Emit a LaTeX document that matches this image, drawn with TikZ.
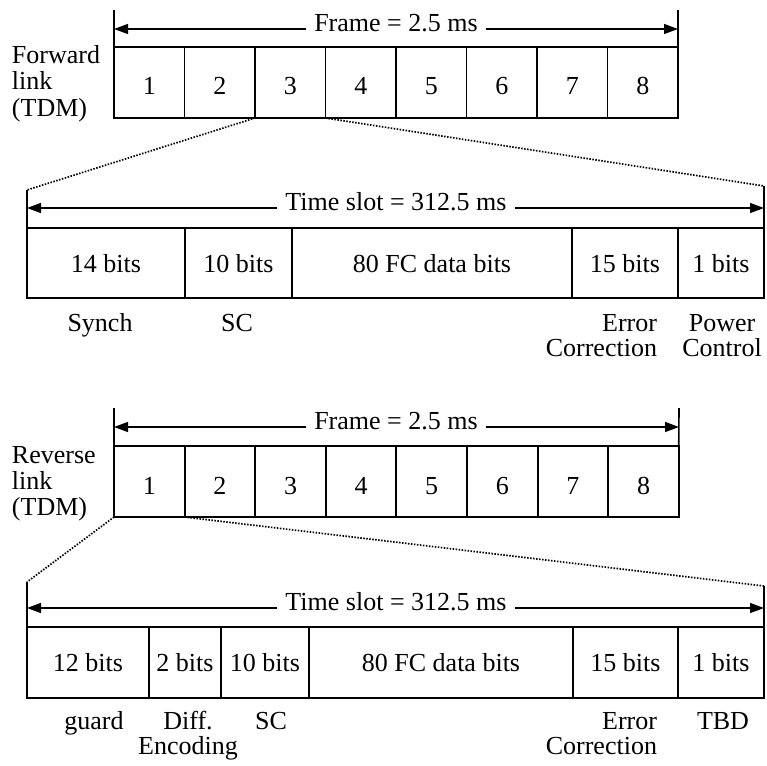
\documentclass[tikz,border=0pt]{standalone}
\usepackage{fontspec}
\setmainfont{Liberation Serif}
\usetikzlibrary{arrows.meta}
\begin{document}
\begin{tikzpicture}[x=1pt,y=-1pt,
  txt/.style={inner sep=0pt, outer sep=0pt, font=\fontsize{26}{22}\selectfont},
  undertxt/.style={txt, text height=18pt, text depth=0pt},
  framecell/.style={txt, draw, line width=1.9pt, minimum width=70.5pt, minimum height=71pt, text height=25pt, text depth=0pt},
  slotcell/.style={txt, draw, line width=1.9pt, minimum height=70.5pt, text height=18pt, text depth=0pt},
  dimlabel/.style={txt, anchor=mid, inner xsep=8pt},
  dimline/.style={line width=1.4pt, -{Triangle[length=14pt,width=10pt]}},
  tickline/.style={line width=1.6pt},
  zoomline/.style={line width=1.7pt, dash pattern=on 1.5pt off 1.5pt}]
\useasboundingbox (0,0) rectangle (767,765);

% ---------- Forward link frame ----------
\foreach \i in {1,...,8}
  \node[framecell] (f\i) at ({114+70.5*(\i-0.5)}, 82.5) {\i};
\node[undertxt, anchor=base west] (fl1) at (12,64) {Forward};
\node[undertxt, anchor=base west] (fl2) at (12,90) {link};
\node[undertxt, anchor=base west] (fl3) at (12,116) {(TDM)};
\coordinate (ftl) at (114,10);
\coordinate (ftr) at (678,10);
\draw[tickline] (ftl) -- (f1.north west);
\draw[tickline] (ftr) -- (f8.north east);
\coordinate (fa1) at (114,29);
\coordinate (fa2) at (678,29);
\node[dimlabel] (flab) at (396,29) {Frame = 2.5 ms};
\draw[dimline] (flab.mid west) -- (fa1);
\draw[dimline] (flab.mid east) -- (fa2);

% ---------- Forward time slot ----------
\node[slotcell, minimum width=158pt] (s1) at (106,263) {14 bits};
\node[slotcell, minimum width=107pt] (s2) at (238.5,263) {10 bits};
\node[slotcell, minimum width=280pt] (s3) at (432,263) {80 FC data bits};
\node[slotcell, minimum width=106pt] (s4) at (625,263) {15 bits};
\node[slotcell, minimum width=86pt] (s5) at (721,263) {1 bits};
\coordinate (stl) at (27,190);
\coordinate (str) at (764,186);
\draw[tickline] (stl) -- (s1.north west);
\draw[tickline] (str) -- (s5.north east);
\coordinate (sa1) at (27,208);
\coordinate (sa2) at (764,208);
\node[dimlabel] (slab) at (396,208) {Time slot = 312.5 ms};
\draw[dimline] (slab.mid west) -- (sa1);
\draw[dimline] (slab.mid east) -- (sa2);
\draw[zoomline] (f3.south west) -- (stl);
\draw[zoomline] (f3.south east) -- (str);

\node[undertxt, anchor=base] (synch) at (100,331) {Synch};
\node[undertxt, anchor=base] (sc) at (237,331) {SC};
\node[undertxt, anchor=base east] (err1) at (657,331) {Error};
\node[undertxt, anchor=base east] (err2) at (657,356) {Correction};
\node[undertxt, anchor=base] (pow1) at (722,331) {Power};
\node[undertxt, anchor=base] (pow2) at (722,356) {Control};

% ---------- Reverse link frame ----------
\foreach \i in {1,...,8}
  \node[framecell] (r\i) at ({114+70.6*(\i-0.5)}, 481.5) {\i};
\node[undertxt, anchor=base west] (rl1) at (12,463) {Reverse};
\node[undertxt, anchor=base west] (rl2) at (12,489) {link};
\node[undertxt, anchor=base west] (rl3) at (12,515) {(TDM)};
\coordinate (rtl) at (114,408);
\coordinate (rtr) at (679,408);
\draw[tickline] (rtl) -- (r1.north west);
\draw[tickline] (rtr) -- (r8.north east);
\coordinate (ra1) at (114,427);
\coordinate (ra2) at (679,427);
\node[dimlabel] (rlab) at (396,427) {Frame = 2.5 ms};
\draw[dimline] (rlab.mid west) -- (ra1);
\draw[dimline] (rlab.mid east) -- (ra2);

% ---------- Reverse time slot ----------
\node[slotcell, minimum width=122pt] (t1) at (88,662.5) {12 bits};
\node[slotcell, minimum width=72pt] (t2) at (185,662.5) {2 bits};
\node[slotcell, minimum width=88pt] (t3) at (265,662.5) {10 bits};
\node[slotcell, minimum width=264pt] (t4) at (441,662.5) {80 FC data bits};
\node[slotcell, minimum width=105pt] (t5) at (625.5,662.5) {15 bits};
\node[slotcell, minimum width=86pt] (t6) at (721,662.5) {1 bits};
\coordinate (ttl) at (27,582);
\coordinate (ttr) at (764,586);
\draw[tickline] (ttl) -- (t1.north west);
\draw[tickline] (ttr) -- (t6.north east);
\coordinate (ta1) at (27,608);
\coordinate (ta2) at (764,608);
\node[dimlabel] (tlab) at (396,608) {Time slot = 312.5 ms};
\draw[dimline] (tlab.mid west) -- (ta1);
\draw[dimline] (tlab.mid east) -- (ta2);
\draw[zoomline] (r1.south west) -- (ttl);
\draw[zoomline] (r1.south east) -- (ttr);

\node[undertxt, anchor=base] (guard) at (94,729) {guard};
\node[undertxt, anchor=base] (diff1) at (188,729) {Diff.};
\node[undertxt, anchor=base] (diff2) at (188,754) {Encoding};
\node[undertxt, anchor=base] (sc2) at (271,729) {SC};
\node[undertxt, anchor=base east] (rerr1) at (657,729) {Error};
\node[undertxt, anchor=base east] (rerr2) at (657,754) {Correction};
\node[undertxt, anchor=base] (tbd) at (723,729) {TBD};
\end{tikzpicture}
\end{document}
